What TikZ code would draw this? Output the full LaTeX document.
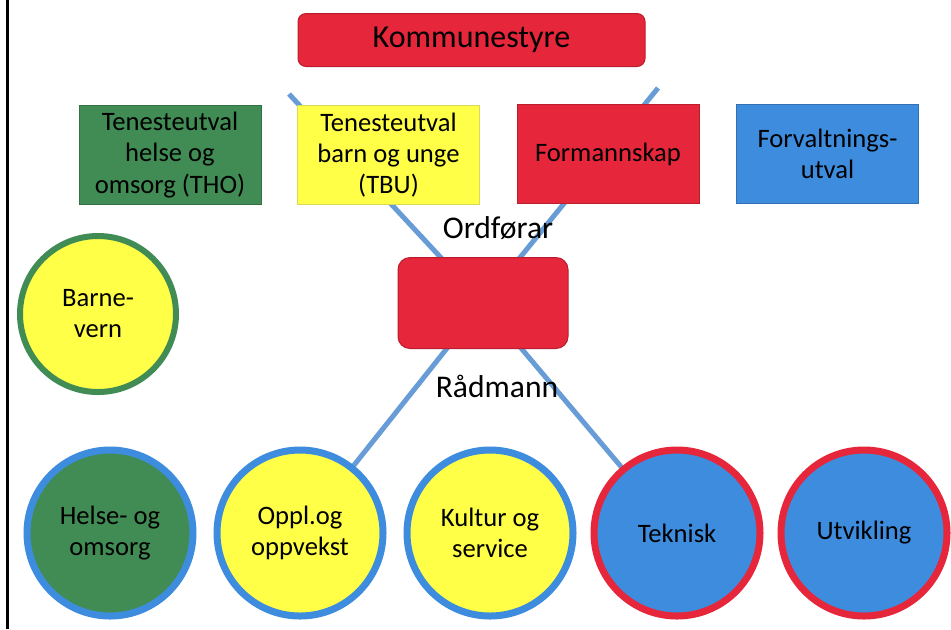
\documentclass[tikz,border=0pt]{standalone}
\usepackage{fontspec}
\setmainfont{Carlito}
\usetikzlibrary{backgrounds}

\definecolor{kred}{RGB}{230,38,58}
\definecolor{kgreen}{RGB}{64,140,84}
\definecolor{kyellow}{RGB}{255,255,72}
\definecolor{kblue}{RGB}{62,140,222}
\definecolor{klink}{RGB}{104,156,214}

\begin{document}
\begin{tikzpicture}[x=0.5pt,y=-0.5pt,
  utval/.style={rectangle, minimum width=91pt, minimum height=49.5pt,
    inner sep=0pt, align=center, line width=0.5pt,
    font=\fontsize{13.3}{15.6}\selectfont},
  leiar/.style={rectangle, rounded corners=4pt, fill=kred,
    draw=kred!80!black, line width=0.5pt, inner sep=0pt},
  eining/.style={circle, minimum size=83pt, line width=3.5pt, inner sep=0pt,
    align=center, font=\fontsize{13.3}{15.5}\selectfont},
  rolle/.style={font=\fontsize{15.8}{19}\selectfont},
  link/.style={klink, line width=2.5pt}]

\useasboundingbox (0,0) rectangle (951,629);

% venstre kant
\draw[line width=1.5pt] (7,0) -- (7,629);

% politisk nivå
\node[leiar, minimum width=173.5pt, minimum height=26.5pt,
  font=\fontsize{16}{19}\selectfont] (kommunestyre) at (471.5,40) {Kommunestyre};

\node[utval, fill=kgreen, draw=kgreen!80!black] (tho) at (170,155)
  {Tenesteutval\\helse og\\omsorg (THO)};
\node[utval, fill=kyellow, draw=kyellow!70!gray] (tbu) at (388.5,155)
  {Tenesteutval\\barn og unge\\(TBU)};
\node[utval, fill=kred, draw=kred!80!black] (form) at (608,154)
  {Formannskap};
\node[utval, fill=kblue, draw=kblue!80!black] (forv) at (827.5,154)
  {Forvaltnings-\\utval};

% ordførar / rådmann
\node[leiar, minimum width=85pt, minimum height=45.5pt, rounded corners=6pt]
  (ord) at (483,303) {};
\node[rolle] (ordforar) at (498,228) {Ordførar};
\node[rolle] (radmann) at (497,386) {Rådmann};

% einingar
\node[eining, minimum size=78pt, line width=3pt, fill=kyellow, draw=kgreen]
  (barnevern) at (98,314) {Barne-\\vern};

\foreach \nm/\x/\inner/\rim/\txt in {
  helse/110/kgreen/kblue/{Helse- og\\omsorg},
  oppl/300/kyellow/kblue/{Oppl.og\\oppvekst},
  kultur/490/kyellow/kblue/{Kultur og\\service},
  teknisk/677/kblue/kred/{Teknisk},
  utvikling/864/kblue/kred/{Utvikling}}
{
  \node[eining, fill=\inner, draw=\rim] (\nm) at (\x,533) {\txt};
}

\coordinate (topv) at (289,94);
\coordinate (toph) at (658,88);

% linjer bak boksane
\begin{scope}[on background layer]
  \draw[link] (topv) -- (ord.center);
  \draw[link] (toph) -- (ord.center);
  \draw[link] (ord.center) -- (oppl.center);
  \draw[link] (ord.center) -- (teknisk.center);
\end{scope}

\end{tikzpicture}
\end{document}
